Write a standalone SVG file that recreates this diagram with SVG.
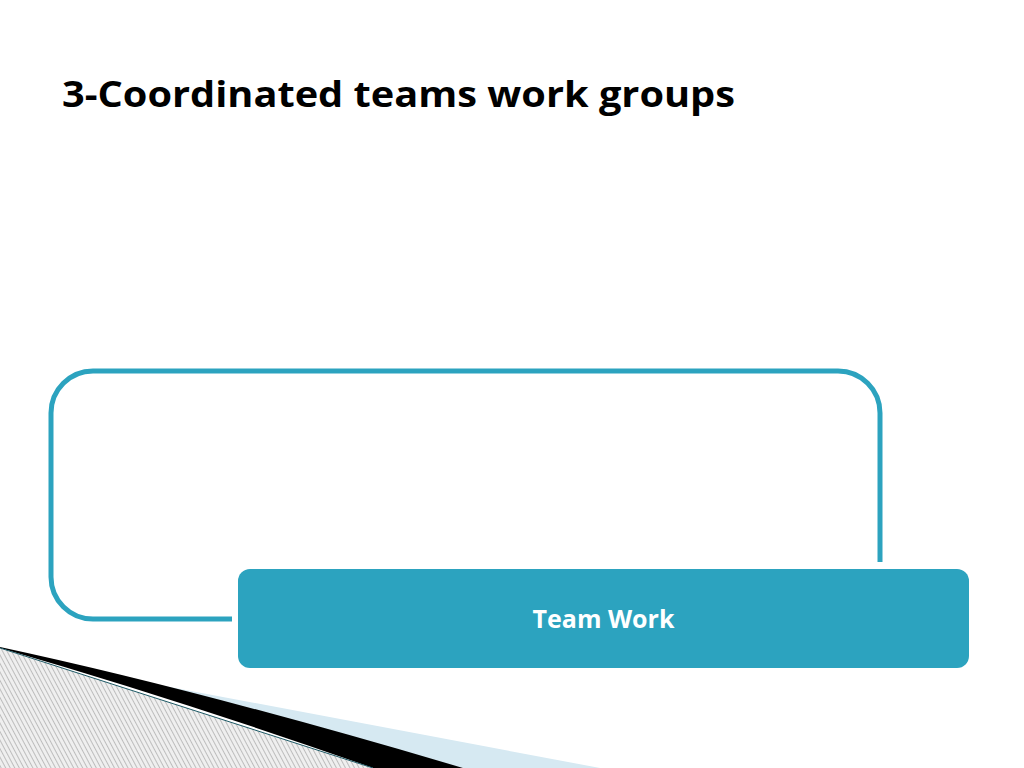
<svg xmlns="http://www.w3.org/2000/svg" width="1024" height="768" viewBox="0 0 1024 768">
  <defs>
    <pattern id="hatch" patternUnits="userSpaceOnUse" width="4" height="4" patternTransform="rotate(-28)">
      <rect width="4" height="4" fill="#EFEFEF"/>
      <rect width="1" height="4" fill="#BDBDBD"/>
    </pattern>
    <style>
      .title { font-family: "Open Sans", "Noto Sans", "Liberation Sans", sans-serif; font-weight: 700; font-size: 36px; fill: #000000; }
      .label { font-family: "Open Sans", "Noto Sans", "Liberation Sans", sans-serif; font-weight: 700; font-size: 25px; fill: #FFFFFF; }
      .outline { fill: none; stroke: #2CA3BF; stroke-width: 5; }
      .box { fill: #2CA3BF; }
    </style>
  </defs>
  <rect width="1024" height="768" fill="#FFFFFF"/>

  <!-- decoration bottom-left -->
  <g id="decoration">
    <polygon points="90,672 600,768 463,768" fill="#D6E9F2"/>
    <path d="M0,647 Q200,690 463,768 L373,768 Q180,700 0,648 Z" fill="#000000"/>
    <polygon points="0,648 373,768 0,768" fill="url(#hatch)"/>
    <line x1="0" y1="648" x2="373" y2="768" stroke="#1E5A66" stroke-width="1"/>
  </g>

  <text class="title" x="62" y="107" textLength="673" lengthAdjust="spacingAndGlyphs">3-Coordinated teams work groups</text>

  <g id="connectors">
    <path class="outline" d="M232,619 H93 A42,42 0 0 1 51,577 V413 A42,42 0 0 1 93,371 H838 A42,42 0 0 1 880,413 V562"/>
  </g>

  <g id="node-teamwork">
    <rect class="box" x="238" y="569" width="731" height="99" rx="12" ry="12"/>
    <text class="label" x="603.5" y="628" text-anchor="middle">Team Work</text>
  </g>
</svg>
